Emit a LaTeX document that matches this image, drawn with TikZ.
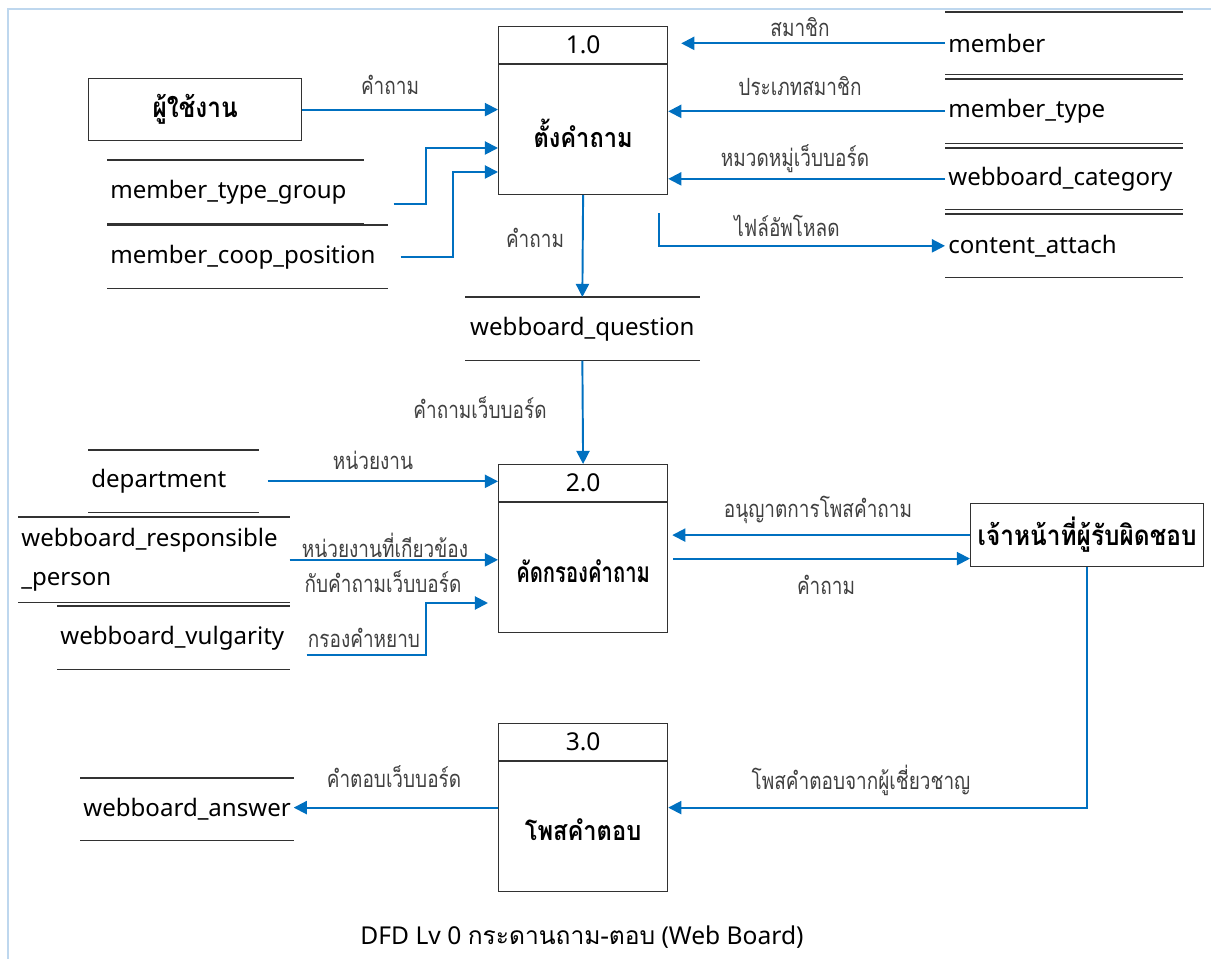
\documentclass[tikz,border=0pt]{standalone}
\usepackage{fontspec}
\setmainfont{Noto Sans}
\newfontfamily\thai[Script=Thai]{Loma}
\newfontfamily\thaibold[Script=Thai,FakeStretch=0.88]{Loma}
\newfontfamily\thainarrow[Script=Thai,FakeStretch=0.8]{Loma}
\newfontfamily\thaicond[Script=Thai,FakeStretch=0.72]{Loma}
\usetikzlibrary{arrows.meta,calc}
\newcommand{\pxu}{0.02cm}
\definecolor{flowblue}{RGB}{0,112,192}
\definecolor{labelgray}{RGB}{64,64,64}
\definecolor{framblue}{RGB}{190,215,238}
\definecolor{edgegray}{RGB}{50,50,50}
\tikzset{
  flow/.style={draw=flowblue, line width=1.1pt, -{Triangle[length=7.5pt,width=7.5pt]}},
  flowlbl/.style={font=\thainarrow\fontsize{13.5}{15}\selectfont, text=labelgray, inner sep=0},
  procbox/.style={draw=edgegray, line width=0.7pt, anchor=north west, inner sep=0,
    minimum width=169*\pxu, minimum height=168*\pxu},
  procnum/.style={font=\fontsize{14}{16}\selectfont, inner sep=0},
  procname/.style={font=\thaibold\bfseries\fontsize{15.3}{17}\selectfont, inner sep=0},
  extbox/.style={draw=edgegray, line width=0.7pt, anchor=north west, inner sep=0,
    font=\thaibold\bfseries\fontsize{15.8}{18}\selectfont},
  store/.style={anchor=north west, inner xsep=3*\pxu, inner ysep=0, align=left,
    font=\fontsize{13.7}{22}\selectfont},
  sline/.style={draw=edgegray, line width=0.8pt},
}
\newcommand{\storelines}[1]{%
  \draw[sline] (#1.north west) -- (#1.north east);
  \draw[sline] (#1.south west) -- (#1.south east);}
\begin{document}
\begin{tikzpicture}[x=0.02cm, y=-0.02cm]
\useasboundingbox (0,0) rectangle (1211,959);
% frame edge
\draw[framblue, line width=1.5pt] (8,959) -- (8,9) -- (1211,9);

% processes
\node[procbox] (p1) at (498,26) {};
\node[procbox] (p2) at (498,464) {};
\node[procbox] (p3) at (498,723) {};
\foreach \p/\n/\t in {p1/1.0/ตั้งคำถาม, p2/2.0/{\thaicond\bfseries\fontsize{16}{18}\selectfont คัดกรองคำถาม}, p3/3.0/โพสคำตอบ}{
  \draw[draw=edgegray, line width=0.7pt] ([shift={(0,38)}]\p.north west) -- ([shift={(0,38)}]\p.north east);
  \node[procnum] (\p num) at ([shift={(0,19)}]\p.north) {\n};
  \node[procname] (\p name) at ([shift={(0,107)}]\p.north) {\t};
}

% external entities
\node[extbox, minimum width=213*\pxu, minimum height=62*\pxu] (user) at (88,78) {ผู้ใช้งาน};
\node[extbox, minimum width=233*\pxu, minimum height=63*\pxu] (staff) at (970,503) {เจ้าหน้าที่ผู้รับผิดชอบ};

% data stores
\node[store, minimum width=237*\pxu, minimum height=62*\pxu, text width=231*\pxu] (sMember) at (945,12) {member};
\node[store, minimum width=237*\pxu, minimum height=64*\pxu, text width=231*\pxu] (sMType) at (945,79) {member\_type};
\node[store, minimum width=237*\pxu, minimum height=61*\pxu, text width=231*\pxu] (sWCat) at (945,148) {webboard\_category};
\node[store, minimum width=237*\pxu, minimum height=63*\pxu, text width=231*\pxu] (sCont) at (945,214) {content\_attach};
\node[store, minimum width=256*\pxu, minimum height=63*\pxu, text width=250*\pxu] (sMTG) at (107,160) {member\_type\_group};
\node[store, minimum width=280*\pxu, minimum height=63*\pxu, text width=274*\pxu] (sMCP) at (107,225) {member\_coop\_position};
\node[store, minimum width=234*\pxu, minimum height=63*\pxu, align=center, text width=228*\pxu] (sWQ) at (465,297) {webboard\_question};
\node[store, minimum width=170*\pxu, minimum height=62*\pxu, text width=164*\pxu] (sDept) at (88,450) {department};
\node[store, minimum width=271*\pxu, minimum height=85*\pxu, text width=265*\pxu] (sWRP) at (18,517) {webboard\_responsible\\\_person};
\node[store, minimum width=232*\pxu, minimum height=63*\pxu, text width=226*\pxu] (sWV) at (57,606) {webboard\_vulgarity};
\node[store, minimum width=213*\pxu, minimum height=62*\pxu, text width=207*\pxu] (sWA) at (80,778) {webboard\_answer};
\foreach \s in {sMember,sMType,sWCat,sCont,sMTG,sMCP,sWQ,sDept,sWRP,sWV,sWA}{\storelines{\s}}

% data flows around process 1.0
\draw[flow] (sMember.west) -- ([xshift=13*\pxu]sMember.west -| p1.east);
\draw[flow] (sMType.west) -- (sMType.west -| p1.east);
\draw[flow] (sWCat.west) -- (sWCat.west -| p1.east);
\coordinate (upl) at ([shift={(-9,18)}]p1.south east);
\draw[flow] (upl) |- (sCont.west);
\draw[flow] (user.east) -- (user.east -| p1.west);
\draw[flow] ([shift={(30,12)}]sMTG.east) -- ++(32,0) |- ([shift={(0,122)}]p1.north west);
\draw[flow] ([shift={(13,0)}]sMCP.east) -- ++(52,0) |- ([shift={(0,146)}]p1.north west);
\draw[flow] (p1.south) -- (sWQ.north);
\draw[flow] (sWQ.south) -- (p2.north);

% data flows around process 2.0
\draw[flow] ([xshift=9*\pxu]sDept.east) -- (sDept.east -| p2.west);
\draw[flow] (sWRP.east) -- (sWRP.east -| p2.west);
\draw[flow] ([shift={(17,17)}]sWV.east) -- ++(119,0) |- ([shift={(-10,139)}]p2.north west);
\draw[flow] (staff.west) -- ([xshift=4*\pxu]staff.west -| p2.east);
\coordinate (q2) at ([shift={(5,10)}]p2.east);
\draw[flow] (q2) -- (q2 -| staff.west);

% data flows around process 3.0
\draw[flow] (staff.south) |- (p3.east);
\draw[flow] (p3.west) -- (p3.west -| sWA.east);

% flow labels
\node[flowlbl] (l1) at (800,27) {สมาชิก};
\node[flowlbl] (l2) at (800,86) {ประเภทสมาชิก};
\node[flowlbl] (l3) at (795,159) {หมวดหมู่เว็บบอร์ด};
\node[flowlbl] (l4) at (787,226) {ไฟล์อัพโหลด};
\node[flowlbl] (l5) at (390,85) {คำถาม};
\node[flowlbl] (l8) at (535,238) {คำถาม};
\node[flowlbl] (l9) at (480,408) {คำถามเว็บบอร์ด};
\node[flowlbl] (l10) at (373,460) {หน่วยงาน};
\node[flowlbl] (l11a) at (385,545) {หน่วยงานที่เกียวข้อง};
\node[flowlbl] (l11b) at (383,582) {กับคำถามเว็บบอร์ด};
\node[flowlbl] (l12) at (364,638) {กรองคำหยาบ};
\node[flowlbl] (l13) at (818,510) {อนุญาตการโพสคำถาม};
\node[flowlbl] (l14) at (826,585) {คำถาม};
\node[flowlbl] (l15) at (861,780) {โพสคำตอบจากผู้เชี่ยวชาญ};
\node[flowlbl] (l16) at (394,777) {คำตอบเว็บบอร์ด};

% caption
\node[font=\fontsize{14}{16}\selectfont, inner sep=0] (title) at (582,937) {DFD Lv 0 {\thai กระดานถาม-ตอบ} (Web Board)};
\end{tikzpicture}
\end{document}
